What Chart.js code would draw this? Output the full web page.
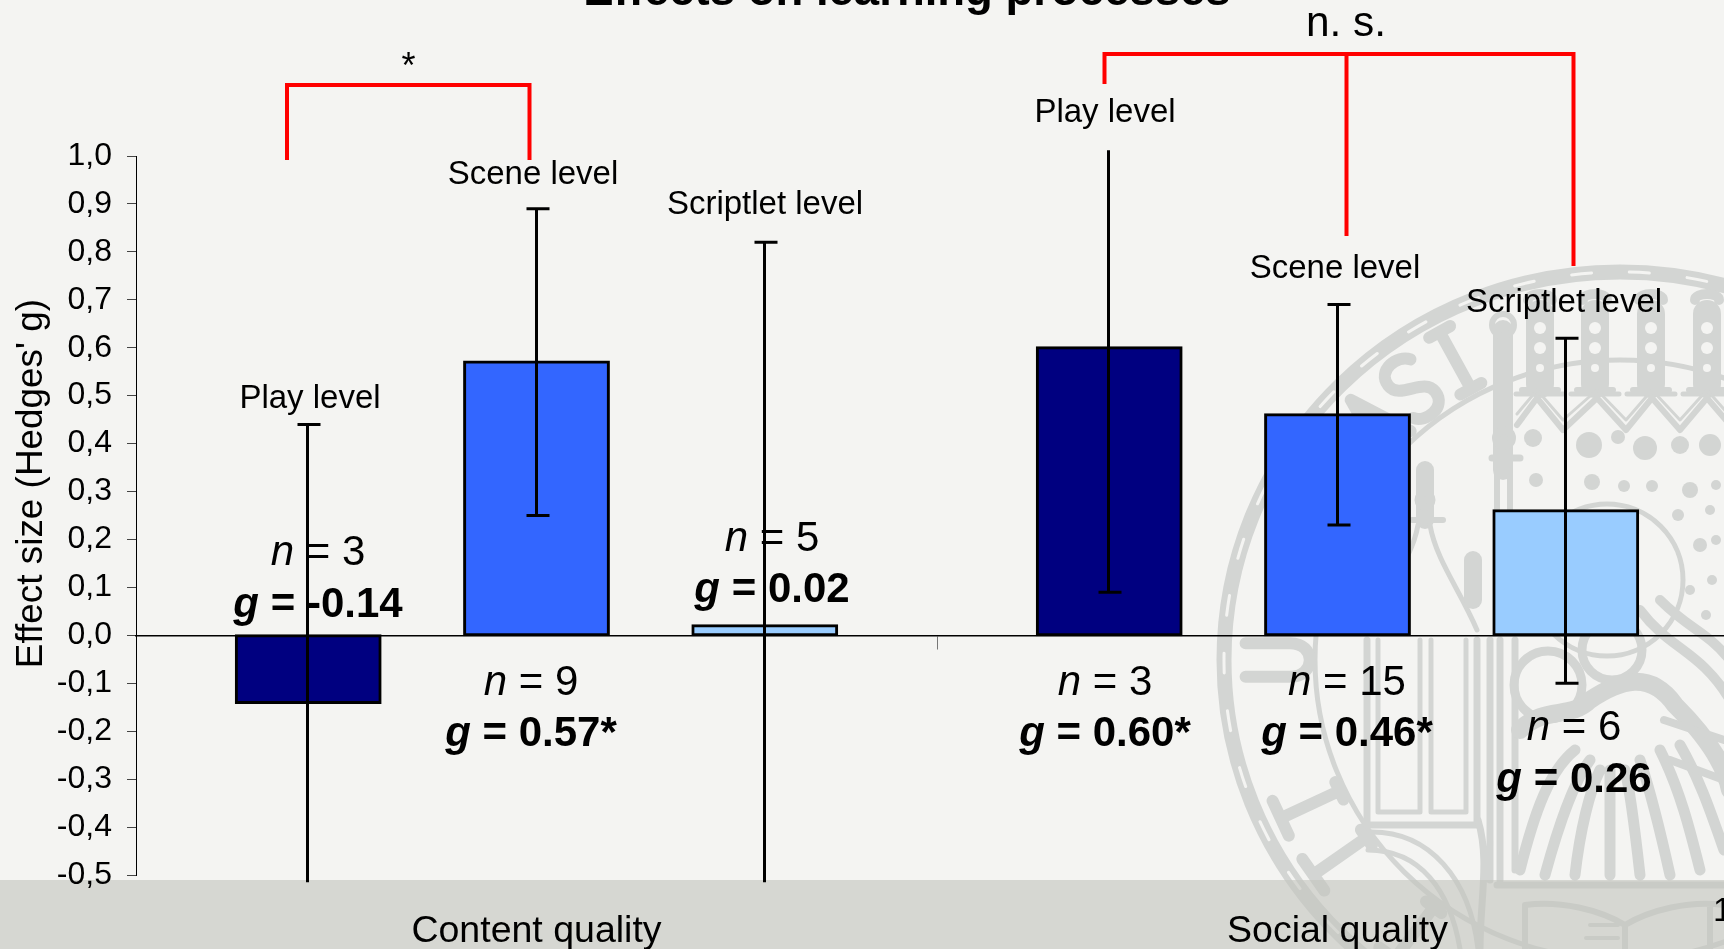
<!DOCTYPE html>
<html><head><meta charset="utf-8"><title>Effects on learning processes</title>
<style>
html,body{margin:0;padding:0;width:1724px;height:949px;overflow:hidden;background:#F4F4F2}
#stage{position:absolute;left:0;top:0;width:1724px;height:949px;overflow:hidden}
#seal,#band{position:absolute;left:0;top:0}
#band{top:880px;width:1724px;height:69px;background:rgba(195,196,190,.61)}
#wrap{position:absolute;left:0;top:0;width:1738px;height:949px}
</style>
<script src="https://cdn.jsdelivr.net/npm/chart.js@4"></script>
</head><body><div id="stage">
<svg id="seal" width="1724" height="949" viewBox="0 0 1724 949" fill="none" stroke="#D3D5D3" stroke-linecap="round" stroke-linejoin="round">
<defs>
<g id="chain"><path d="M0 -38V32" stroke-width="28"/><path d="M-18 38H18" stroke-width="6"/><path d="M-24 42H24" stroke-width="5"/>
<path d="M-12 -52C-12 -60 12 -60 12 -52" stroke-width="10"/>
<circle cx="0" cy="-24" r="6" fill="#F4F4F2" stroke="none"/><circle cx="0" cy="-4" r="6" fill="#F4F4F2" stroke="none"/><circle cx="0" cy="16" r="4" fill="#F4F4F2" stroke="none"/></g>
</defs>
<ellipse cx="1620" cy="660" rx="396" ry="388" stroke-width="15"/>
<ellipse cx="1620" cy="660" rx="396" ry="388" stroke="#F4F4F2" stroke-width="3" stroke-dasharray="20 38"/>
<ellipse cx="1620" cy="660" rx="305" ry="300" stroke-width="5"/>
<g stroke-width="10">
<path transform="rotate(-46 1620 660) translate(1620 318) scale(1.2)" d="M-16 27L0 -27L16 27M-9 8H9"/>
<path transform="rotate(-37.5 1620 660) translate(1620 318) scale(1.2)" d="M14 -20C8 -30 -14 -30 -14 -14C-14 2 14 -2 14 14C14 30 -8 30 -14 20"/>
<path transform="rotate(-28.8 1620 660) translate(1620 318) scale(1.2)" d="M0 -27V27M-10 -27H10M-10 27H10"/>
<path transform="rotate(-90 1620 660) translate(1620 318) scale(1.2)" d="M-14 -27V10C-14 32 14 32 14 10V-27"/>
<path transform="rotate(-115 1620 660) translate(1620 318) scale(1.2)" d="M-16 -27H16M0 -27V27M-8 27H8"/>
<path transform="rotate(-125 1620 660) translate(1620 318) scale(1.2)" d="M-16 -27H16M0 -27V27M-8 27H8"/>
<path transform="rotate(-143 1620 660) translate(1620 318) scale(1.2)" d="M-16 -27H16M0 -27V27M-8 27H8"/>
</g>
<path d="M1503 330V470" stroke-width="20"/><circle cx="1503" cy="325" r="11" stroke-width="6"/>
<circle cx="1504" cy="438" r="8" stroke-width="8"/><path d="M1492 458H1520" stroke-width="7"/>
<path d="M1497 470V630M1510 470V630" stroke-width="6"/>
<use href="#chain" x="1540" y="352"/><use href="#chain" x="1595" y="352"/><use href="#chain" x="1651" y="352"/><use href="#chain" x="1707" y="352"/>
<path d="M1517 425L1537 398L1563 430L1597 398L1626 430L1652 398L1680 430L1707 398L1730 425" stroke-width="6"/>
<path d="M1517 414L1537 390L1563 420L1597 390L1626 420L1652 390L1680 420L1707 390L1730 416" stroke-width="3"/>
<g fill="#D3D5D3" stroke="none">
<circle cx="1533" cy="438" r="9"/><circle cx="1589" cy="445" r="13"/><circle cx="1618" cy="437" r="7"/><circle cx="1645" cy="448" r="12"/><circle cx="1680" cy="445" r="9"/><circle cx="1710" cy="445" r="11"/>
<circle cx="1536" cy="480" r="7"/><circle cx="1592" cy="482" r="8"/><circle cx="1624" cy="486" r="6"/><circle cx="1652" cy="486" r="6"/><circle cx="1690" cy="490" r="8"/><circle cx="1716" cy="485" r="5"/>
<circle cx="1678" cy="515" r="6"/><circle cx="1710" cy="510" r="5"/><circle cx="1700" cy="545" r="7"/><circle cx="1716" cy="540" r="5"/><circle cx="1712" cy="580" r="5"/><circle cx="1690" cy="590" r="5"/>
<circle cx="1706" cy="615" r="5"/>
</g>
<circle cx="1607" cy="580" r="76" stroke-width="5"/>
<path d="M1425 470V520" stroke-width="18"/><circle cx="1425" cy="500" r="7" stroke-width="7"/>
<path d="M1412 520H1443" stroke-width="6"/>
<path d="M1367 630C1385 590 1412 560 1418 525M1477 630C1460 590 1436 560 1430 525" stroke-width="5"/>
<path d="M1473 560V600" stroke-width="18"/>
<path d="M1367 640V825H1477V640" stroke-width="7"/><path d="M1378 640V812H1420V640M1431 640V812H1466V640" stroke-width="5"/>
<path d="M1490 640V880M1478 820C1490 860 1480 900 1480 949" stroke-width="7"/>
<path d="M1368 832C1430 830 1470 880 1478 949M1368 850C1420 850 1450 890 1460 949" stroke-width="5"/>
<circle cx="1548" cy="685" r="34" stroke-width="9"/>
<circle cx="1612" cy="650" r="30" stroke-width="9"/>
<path d="M1500 640V880M1515 640V870" stroke-width="7"/>
<path d="M1520 730C1545 705 1570 720 1590 700C1620 680 1650 670 1675 705C1700 730 1724 760 1730 790" stroke-width="18"/>
<path d="M1640 610C1670 650 1700 650 1730 700M1660 600C1690 630 1705 630 1730 660" stroke-width="10"/>
<path d="M1520 870C1535 810 1550 770 1575 750M1545 875C1560 820 1575 780 1590 760M1575 875C1580 830 1590 790 1600 770M1610 875V770M1640 875C1635 830 1630 790 1625 770M1670 875C1660 830 1650 790 1640 760M1700 870C1690 830 1680 790 1660 750M1724 850C1710 810 1700 780 1680 745" stroke-width="11"/>
<path d="M1664 720L1724 740M1670 760L1724 780" stroke-width="8"/>
<path d="M1497 885H1724" stroke-width="7"/>
<path d="M1525 905C1560 900 1600 910 1625 925C1650 910 1690 900 1724 905M1525 905V949M1625 925V949M1710 905V949" stroke-width="6"/>
<path d="M1590 925H1618M1586 938H1618" stroke-width="4"/>
</svg>
<div id="band"></div>
<div id="wrap"><canvas id="chart"></canvas></div>
</div>
<script>
const categories = ["Content quality", "Social quality"];
const seriesNames = ["Play level", "Scene level", "Scriptlet level"];
const playValues = [-0.14, 0.60];
const sceneValues = [0.57, 0.46];
const scriptletValues = [0.02, 0.26];
const playLow = [-0.72, 0.09];
const playHigh = [0.44, 1.11];
const sceneLow = [0.25, 0.23];
const sceneHigh = [0.89, 0.69];
const scriptletLow = [-0.78, -0.10];
const scriptletHigh = [0.82, 0.62];
const yTickLabels = ["-0,5","-0,4","-0,3","-0,2","-0,1","0,0","0,1","0,2","0,3","0,4","0,5","0,6","0,7","0,8","0,9","1,0"];
const nLabels = [["3","9","5"],["3","15","6"]];
const gLabels = [["-0.14","0.57*","0.02"],["0.60*","0.46*","0.26"]];

const errorSeries = [[playLow, playHigh],[sceneLow, sceneHigh],[scriptletLow, scriptletHigh]];
const FONT = '"Liberation Sans", Arial, sans-serif';
const lowLimit = -0.515, highLimit = 1.012;

const errorBars = {
  id:'errorBars',
  afterDatasetsDraw(chart){
    const c = chart.ctx, y = chart.scales.y;
    c.save(); c.strokeStyle='#000'; c.lineWidth=3;
    errorSeries.forEach((pair,ds)=>{
      chart.getDatasetMeta(ds).data.forEach((bar,i)=>{
        const x = Math.round(bar.x)-0.5;
        const lo = pair[0][i], hi = pair[1][i];
        const yl = y.getPixelForValue(Math.max(lo,lowLimit));
        const yh = y.getPixelForValue(Math.min(hi,highLimit));
        c.beginPath(); c.moveTo(x,yl); c.lineTo(x,yh);
        if(lo>=lowLimit){c.moveTo(x-10,yl); c.lineTo(x+13,yl);}
        if(hi<=highLimit){c.moveTo(x-10,yh); c.lineTo(x+13,yh);}
        c.stroke();
      });
    });
    c.restore();
  }
};

function seg(c,parts,cx,y){
  let w=0; parts.forEach(p=>{c.font=p[1];w+=c.measureText(p[0]).width;});
  let x=cx-w/2; c.textAlign='left';
  parts.forEach(p=>{c.font=p[1];c.fillText(p[0],x,y);x+=c.measureText(p[0]).width;});
}
const levelPos = [[310,408],[533,184],[765,214],[1105,122],[1335,278],[1564,312]];
const statPos = [[[318,565,617],[531,695,746],[772,551,602]],[[1105,695,746],[1347,695,746],[1574,740,792]]];
const annotations = {
  id:'annotations',
  afterDraw(chart){
    const c = chart.ctx;
    c.save(); c.fillStyle='#000'; c.textBaseline='alphabetic'; c.textAlign='center';
    c.font='bold 45.5px '+FONT; c.fillText('Effects on learning processes',907,5);
    c.save(); c.translate(42,483.5); c.rotate(-Math.PI/2);
    c.font='36.9px '+FONT; c.fillText("Effect size (Hedges' g)",0,0); c.restore();
    c.strokeStyle='#FF0000'; c.lineWidth=4; c.lineCap='butt';
    c.beginPath();
    c.moveTo(287,160); c.lineTo(287,85); c.lineTo(529.5,85); c.lineTo(529.5,160);
    c.moveTo(1104.5,84); c.lineTo(1104.5,54); c.lineTo(1573.5,54); c.lineTo(1573.5,266);
    c.moveTo(1346.5,54); c.lineTo(1346.5,236);
    c.stroke();
    c.textAlign='center';
    c.font='36px '+FONT; c.fillText('*',408.5,78);
    c.font='42.4px '+FONT; c.fillText('n. s.',1346,36);
    c.font='33px '+FONT;
    const names=[...seriesNames,...seriesNames];
    names.forEach((t,i)=>c.fillText(t,levelPos[i][0],levelPos[i][1]));
    const R='42px '+FONT,I='italic 42px '+FONT,B='bold 42px '+FONT,BI='italic bold 42px '+FONT;
    nLabels.forEach((row,a)=>row.forEach((n,b)=>{
      const p=statPos[a][b];
      seg(c,[['n',I],[' = '+n,R]],p[0],p[1]);
      seg(c,[['g',BI],[' = '+gLabels[a][b],B]],p[0],p[2]);
    }));
    c.font='34px '+FONT; c.textAlign='left'; c.fillText('1',1713,921);
    c.restore();
  }
};

new Chart(document.getElementById('chart'),{
  type:'bar',
  data:{labels:categories,datasets:[
    {label:seriesNames[0],data:playValues,backgroundColor:'#000080'},
    {label:seriesNames[1],data:sceneValues,backgroundColor:'#3366FF'},
    {label:seriesNames[2],data:scriptletValues,backgroundColor:'#99CCFF'}
  ].map(d=>Object.assign(d,{borderColor:'#000',borderWidth:3,borderSkipped:false,inflateAmount:1.5,categoryPercentage:.855,barPercentage:.63}))},
  plugins:[errorBars,annotations],
  options:{
    responsive:true,maintainAspectRatio:false,animation:false,
    layout:{padding:{top:156,left:0,right:0,bottom:0}},
    plugins:{legend:{display:false},title:{display:false},tooltip:{enabled:false}},
    scales:{
      x:{type:'category',position:'bottom',offset:true,
        grid:{display:false},border:{display:false},
        ticks:{color:'#000',font:{family:FONT,size:37.5},padding:26,maxRotation:0,autoSkip:false},
        afterFit(s){s.height=74;}},
      x2:{type:'category',position:{y:0},offset:true,labels:categories,
        grid:{offset:true,drawOnChartArea:false,tickLength:13,color:'#777',tickColor:'#777'},
        border:{color:'#000',width:1.5},
        ticks:{display:false},
        afterFit(s){s.height=0;}},
      y:{min:-0.5,max:1,
        grid:{drawOnChartArea:false,tickLength:9,tickColor:'#444'},
        border:{color:'#000',width:1},
        ticks:{stepSize:.1,padding:15,color:'#000',font:{family:FONT,size:32},
          callback(v){return yTickLabels[Math.round((v+0.5)*10)];}},
        afterFit(s){s.width=136;}}
    }
  }
});
</script></body></html>
